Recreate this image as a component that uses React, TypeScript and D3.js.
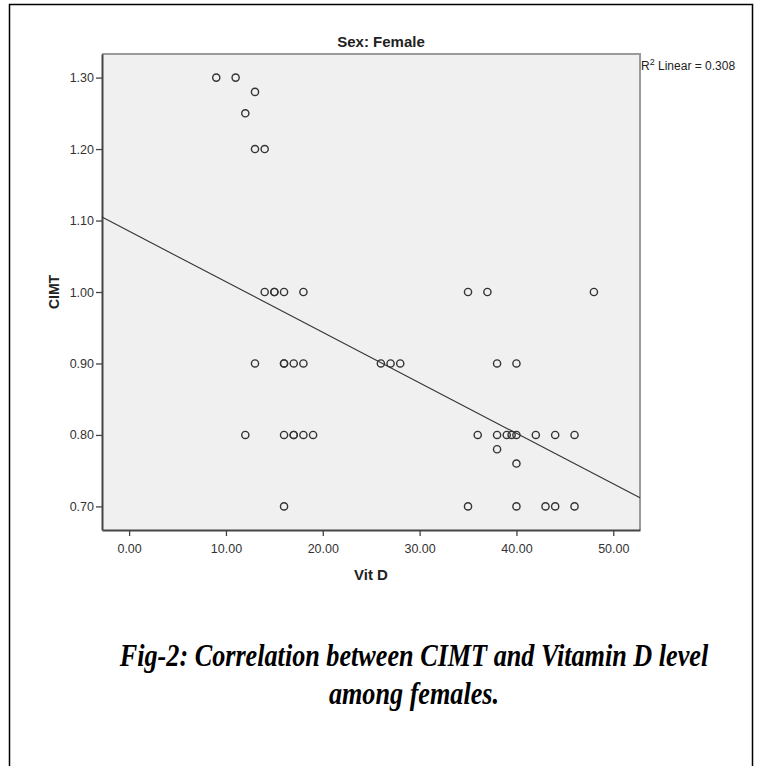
import React, { useEffect, useRef } from 'react';
import * as d3 from 'd3';

// Vit D (x) and CIMT (y) pairs
const vitD = [
  9, 11, 13, 12, 13, 14,
  14, 15, 15, 16, 18, 35, 37, 48,
  13, 16, 16, 17, 18, 26, 27, 28, 38, 40,
  12, 16, 17, 17, 18, 19, 36, 38, 39, 39.5, 40, 42, 44, 46,
  38, 40,
  16, 35, 40, 43, 44, 46,
];
const cimt = [
  1.3, 1.3, 1.28, 1.25, 1.2, 1.2,
  1.0, 1.0, 1.0, 1.0, 1.0, 1.0, 1.0, 1.0,
  0.9, 0.9, 0.9, 0.9, 0.9, 0.9, 0.9, 0.9, 0.9, 0.9,
  0.8, 0.8, 0.8, 0.8, 0.8, 0.8, 0.8, 0.8, 0.8, 0.8, 0.8, 0.8, 0.8, 0.8,
  0.78, 0.76,
  0.7, 0.7, 0.7, 0.7, 0.7, 0.7,
];

const xTicks = [0, 10, 20, 30, 40, 50];
const yTicks = [0.7, 0.8, 0.9, 1.0, 1.1, 1.2, 1.3];

// linear fit line as drawn (R2 Linear = 0.308)
const fitIntercept = 1.085;
const fitSlope = -0.00707;
const r2Value = '0.308';

const W = 758;
const H = 766;

const App = () => {
  const svgRef = useRef<SVGSVGElement>(null);

  useEffect(() => {
    const svg = d3.select(svgRef.current);
    svg.selectAll('*').remove();

    const left = 102, right = 640, top = 54, bottom = 530;

    const x = d3.scaleLinear().domain([-2.8, 52.76]).range([left, right]);
    const y = d3.scaleLinear().domain([0.667, 1.333]).range([bottom, top]);

    // page frame
    svg.append('path')
      .attr('d', `M9.5,${H} V4.5 H752.5 V${H}`)
      .attr('fill', 'none')
      .attr('stroke', '#000')
      .attr('stroke-width', 1.5);

    svg.append('rect')
      .attr('x', left).attr('y', top)
      .attr('width', right - left).attr('height', bottom - top)
      .attr('fill', '#f0f0f0');

    // top / right frame of plot
    svg.append('path')
      .attr('d', `M${left},${top} H${right} V${bottom}`)
      .attr('fill', 'none')
      .attr('stroke', '#9a9a9a')
      .attr('stroke-width', 2);

    const xAxis = svg.append('g')
      .attr('transform', `translate(0,${bottom})`)
      .call(d3.axisBottom(x).tickValues(xTicks).tickFormat(d3.format('.2f')).tickSize(6).tickSizeOuter(0));
    const yAxis = svg.append('g')
      .attr('transform', `translate(${left},0)`)
      .call(d3.axisLeft(y).tickValues(yTicks).tickFormat(d3.format('.2f')).tickSize(6).tickSizeOuter(0));

    [xAxis, yAxis].forEach(g => {
      g.select('.domain').attr('stroke', '#444').attr('stroke-width', 2);
      g.selectAll('.tick line').attr('stroke', '#444').attr('stroke-width', 1.3);
      g.selectAll('.tick text')
        .attr('fill', '#333')
        .style('font-family', '"Liberation Sans", Arial, sans-serif')
        .style('font-size', '12.5px');
    });
    xAxis.selectAll('.tick text').attr('dy', '1.1em');
    yAxis.selectAll('.tick text').attr('x', -8);

    // fit line
    const xd = x.domain();
    svg.append('line')
      .attr('x1', x(xd[0])).attr('y1', y(fitIntercept + fitSlope * xd[0]))
      .attr('x2', x(xd[1])).attr('y2', y(fitIntercept + fitSlope * xd[1]))
      .attr('stroke', '#333')
      .attr('stroke-width', 1.1);

    svg.append('g')
      .selectAll('circle')
      .data(vitD.map((v, i) => [v, cimt[i]]))
      .enter().append('circle')
      .attr('cx', d => x(d[0]))
      .attr('cy', d => y(d[1]))
      .attr('r', 3.6)
      .attr('fill', 'none')
      .attr('stroke', '#333')
      .attr('stroke-width', 1.4);

    const sans = '"Liberation Sans", Arial, sans-serif';

    svg.append('text')
      .attr('x', 381).attr('y', 47)
      .attr('text-anchor', 'middle')
      .style('font-family', sans).style('font-weight', 'bold').style('font-size', '15px')
      .attr('fill', '#222')
      .text('Sex: Female');

    const r2 = svg.append('text')
      .attr('x', right + 1).attr('y', 70)
      .style('font-family', sans).style('font-size', '12px')
      .attr('fill', '#222');
    r2.append('tspan').text('R');
    r2.append('tspan').attr('dy', -5).style('font-size', '9px').text('2');
    r2.append('tspan').attr('dy', 5).text(` Linear = ${r2Value}`);

    svg.append('text')
      .attr('transform', `translate(59,${(top + bottom) / 2}) rotate(-90)`)
      .attr('text-anchor', 'middle')
      .style('font-family', sans).style('font-weight', 'bold').style('font-size', '14px')
      .attr('fill', '#222')
      .text('CIMT');

    svg.append('text')
      .attr('x', (left + right) / 2).attr('y', 580)
      .attr('text-anchor', 'middle')
      .style('font-family', sans).style('font-weight', 'bold').style('font-size', '15px')
      .attr('fill', '#222')
      .text('Vit D');

    const cap = svg.append('g')
      .attr('transform', 'translate(414,0) scale(0.845,1)')
      .style('font-family', '"Liberation Serif", "Times New Roman", serif')
      .style('font-weight', 'bold').style('font-style', 'italic').style('font-size', '31px')
      .attr('fill', '#000');
    cap.append('text').attr('x', 0).attr('y', 666).attr('text-anchor', 'middle')
      .text('Fig-2: Correlation between CIMT and Vitamin D level');
    cap.append('text').attr('x', 0).attr('y', 704).attr('text-anchor', 'middle')
      .text('among females.');
  }, []);

  return (
    <svg ref={svgRef} width={W} height={H}
      style={{ position: 'absolute', left: 0, top: 0, background: '#fff' }} />
  );
};

export default App;
